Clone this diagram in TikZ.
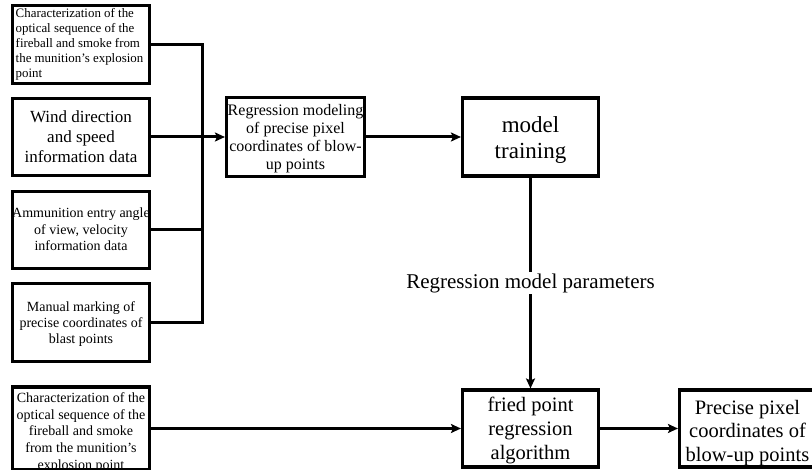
\documentclass[tikz,border=0pt]{standalone}
\usepackage{fontspec}
\setmainfont{Liberation Serif}
\usetikzlibrary{arrows.meta}
\newcommand\btxt[3]{\raisebox{#1}[\height][\depth]{\begin{tabular}{@{}#2@{}}#3\end{tabular}}}
\begin{document}
\begin{tikzpicture}[x=1pt,y=-1pt,
  box/.style={draw,line width=3.1pt,inner sep=0pt},
  conn/.style={line width=3pt},
  arr/.style={conn,-{Stealth[length=10pt,width=9pt,inset=2pt]}}]
\useasboundingbox[fill=white] (0,0) rectangle (812,470);
% left column
\node[box,minimum width=137pt,minimum height=78pt,
      font=\fontsize{12.9}{15}\selectfont] (b1) at (81,44.5)
  {\btxt{-0.5pt}{l@{\hspace{3pt}}}{Characterization of the\\optical sequence of the\\fireball and smoke from\\the munition's explosion\\point}};
\node[box,minimum width=137pt,minimum height=77pt,font=\fontsize{17}{20}\selectfont] (b2) at (81,137)
  {\btxt{-1.7pt}{c}{Wind direction\\and speed\\information data}};
\node[box,minimum width=137pt,minimum height=77pt,font=\fontsize{14}{16.5}\selectfont] (b3) at (81,230)
  {\btxt{-1.2pt}{c}{Ammunition entry angle\\of view, velocity\\information data}};
\node[box,minimum width=137pt,minimum height=78pt,font=\fontsize{14}{16}\selectfont] (b4) at (81,322.5)
  {\btxt{-2pt}{c}{Manual marking of\\precise coordinates of\\blast points}};
\node[box,minimum width=137pt,minimum height=78pt,font=\fontsize{14}{16.6}\selectfont] (b5) at (81,428.5)
  {\btxt{-4pt}{c}{Characterization of the\\optical sequence of the\\fireball and smoke\\from the munition's\\explosion point}};
% middle
\node[box,minimum width=138pt,minimum height=79pt,font=\fontsize{16}{17.7}\selectfont] (reg) at (295.5,137)
  {\btxt{-2pt}{c}{Regression modeling\\of precise pixel\\coordinates of blow-\\up points}};
\node[box,minimum width=136pt,minimum height=78pt,font=\fontsize{23}{26}\selectfont] (model) at (530.5,137)
  {\btxt{-3pt}{c}{model\\training}};
\node[box,minimum width=136pt,minimum height=77pt,font=\fontsize{20.5}{24}\selectfont] (fried) at (530.5,428.5)
  {\btxt{-2.2pt}{c}{fried point\\regression\\algorithm}};
\node[box,minimum width=136pt,minimum height=77pt,font=\fontsize{20.5}{23.5}\selectfont] (out) at (747.5,428.5)
  {\btxt{-4.8pt}{c}{Precise pixel\\coordinates of\\blow-up points}};
% bus
\coordinate (bt) at (202,44.5);
\coordinate (bb) at (202,322.5);
\draw[conn] (b1.east) -- (bt) -- (bb) -- (b4.east);
\draw[conn] (b3.east) -- (b3.east -| bt);
\draw[arr] (b2.east) -- (reg.west);
\draw[arr] (reg.east) -- (model.west);
\draw[arr] (model.south) -- node[fill=white,inner sep=1pt,font=\fontsize{21}{24}\selectfont] (lab) {Regression model parameters} (fried.north);
\draw[arr] (b5.east) -- (fried.west);
\draw[arr] (fried.east) -- (out.west);
\end{tikzpicture}
\end{document}
